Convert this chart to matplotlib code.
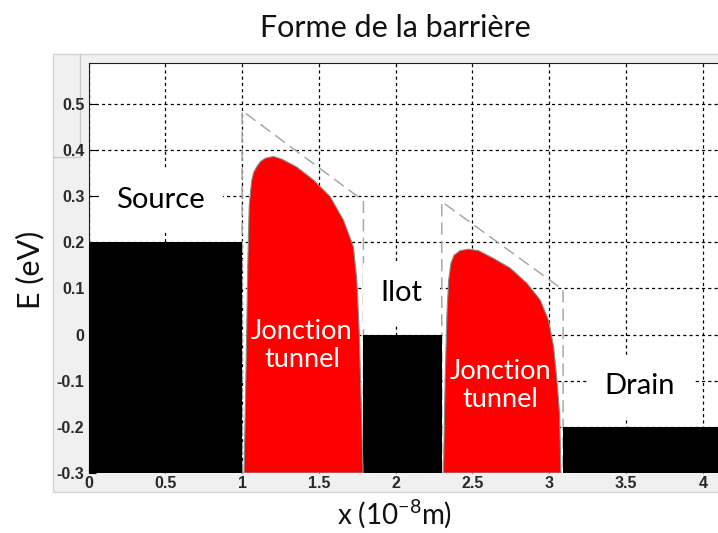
import matplotlib.pyplot as plt
from matplotlib.patches import Rectangle
from matplotlib.lines import Line2D

plt.rcParams['font.family'] = ['Lato', 'DejaVu Sans']
plt.rcParams['mathtext.default'] = 'regular'

# electrode / island levels (eV)
region_left = [0.0, 1.79, 3.09]
region_right = [1.0, 2.30, 4.12]
region_level = [0.2, 0.0, -0.2]

# rounded tunnel barriers (image-charge lowered)
barrier1_x = [1.013, 1.022, 1.030, 1.037, 1.046, 1.055, 1.063, 1.076, 1.096, 1.120, 1.150,
              1.204, 1.260, 1.356, 1.465, 1.573, 1.660, 1.725, 1.747, 1.762, 1.775, 1.788]
barrier1_y = [-0.30, -0.142, 0.010, 0.150, 0.277, 0.310, 0.335, 0.352, 0.364, 0.375, 0.382,
              0.386, 0.380, 0.363, 0.335, 0.299, 0.248, 0.190, 0.118, 0.010, -0.142, -0.30]
barrier2_x = [2.311, 2.322, 2.334, 2.345, 2.360, 2.380, 2.420, 2.474, 2.539, 2.637, 2.746,
              2.855, 2.941, 2.995, 3.028, 3.050, 3.067, 3.076]
barrier2_y = [-0.30, -0.099, 0.046, 0.118, 0.155, 0.172, 0.182, 0.185, 0.182, 0.165, 0.144,
              0.111, 0.075, 0.031, -0.026, -0.099, -0.171, -0.30]

# ideal trapezoidal barriers (dashed)
trap1_x = [1.0, 1.0, 1.79, 1.79]
trap1_y = [-0.3, 0.485, 0.29, -0.3]
trap2_x = [2.30, 2.30, 3.09, 3.09]
trap2_y = [-0.3, 0.288, 0.097, -0.3]

xticks = [0, 0.5, 1, 1.5, 2, 2.5, 3, 3.5, 4]
yticks = [-0.3, -0.2, -0.1, 0, 0.1, 0.2, 0.3, 0.4, 0.5]
ymin = -0.3

fig = plt.figure(figsize=(7.18, 5.33), dpi=100)
fig.patches.append(Rectangle((0.0738, 0.0769), 0.93, 0.8218, transform=fig.transFigure,
                             facecolor='#f0f0f0', edgecolor='#d4d4d4', lw=1, zorder=-2))
fig.lines.append(Line2D([0.1114, 0.1114], [0.8987, 0.7055], transform=fig.transFigure,
                        color='#c8c8c8', lw=1, zorder=-1))
fig.lines.append(Line2D([0.0738, 0.1114], [0.7055, 0.7055], transform=fig.transFigure,
                        color='#c8c8c8', lw=1, zorder=-1))

ax = fig.add_axes([0.1233, 0.1126, 0.877, 0.7687])
ax.set_facecolor('white')

ax.grid(True, color='black', linestyle=(0, (2.5, 2.5)), lw=0.9)
ax.set_axisbelow(True)

for xl, xr, lv in zip(region_left, region_right, region_level):
    ax.bar(xl, lv - ymin, width=xr - xl, bottom=ymin, align='edge', color='black', zorder=3)

ax.plot(trap1_x, trap1_y, color='#a8a8a8', lw=1.1, linestyle=(0, (8, 4)), zorder=2.5)
ax.plot(trap2_x, trap2_y, color='#a8a8a8', lw=1.1, linestyle=(0, (8, 4)), zorder=2.5)

ax.fill(barrier1_x, barrier1_y, facecolor='#ff0000', edgecolor='#8a8a8a', lw=0.8, zorder=4)
ax.fill(barrier2_x, barrier2_y, facecolor='#ff0000', edgecolor='#8a8a8a', lw=0.8, zorder=4)

box = dict(facecolor='white', edgecolor='none', boxstyle='square,pad=0.6')
ax.text(0.47, 0.292, 'Source', fontsize=21, ha='center', va='center', bbox=box, zorder=5)
ax.text(2.04, 0.09, 'Ilot', fontsize=21, ha='center', va='center', bbox=box, zorder=5)
ax.text(3.59, -0.112, 'Drain', fontsize=21, ha='center', va='center', bbox=box, zorder=5)
ax.text(1.39, -0.023, 'Jonction\ntunnel', fontsize=19.5, color='white', ha='center',
        va='center', linespacing=1.15, zorder=6)
ax.text(2.68, -0.11, 'Jonction\ntunnel', fontsize=19.5, color='white', ha='center',
        va='center', linespacing=1.15, zorder=6)

ax.set_xlim(0, 4.1)
ax.set_ylim(-0.3, 0.588)
ax.set_xticks(xticks)
ax.set_xticklabels(['0', '0.5', '1', '1.5', '2', '2.5', '3', '3.5', '4'])
ax.set_yticks(yticks)
ax.set_yticklabels(['-0.3', '-0.2', '-0.1', '0', '0.1', '0.2', '0.3', '0.4', '0.5'])
ax.tick_params(direction='in', length=5, labelsize=11.5, labelcolor='#2a2a2a')
ax.tick_params(axis='x', pad=2)
ax.tick_params(axis='y', pad=3)
for lab in ax.get_xticklabels() + ax.get_yticklabels():
    lab.set_family(['Liberation Sans', 'DejaVu Sans'])
    lab.set_fontweight('bold')
for s in ['right', 'bottom']:
    ax.spines[s].set_visible(False)
ax.spines['left'].set_color('#202020')
ax.spines['top'].set_color('#202020')

fig.text(0.55, 0.947, 'Forme de la barrière', fontsize=22, ha='center', va='center', color='#111111')
fig.text(0.042, 0.493, 'E (eV)', fontsize=22, rotation=90, ha='center', va='center', color='#111111')
fig.text(0.55, 0.036, 'x (10$^{-8}$m)', fontsize=20, ha='center', va='center', color='#111111')

fig.savefig('out.png', dpi=100)
